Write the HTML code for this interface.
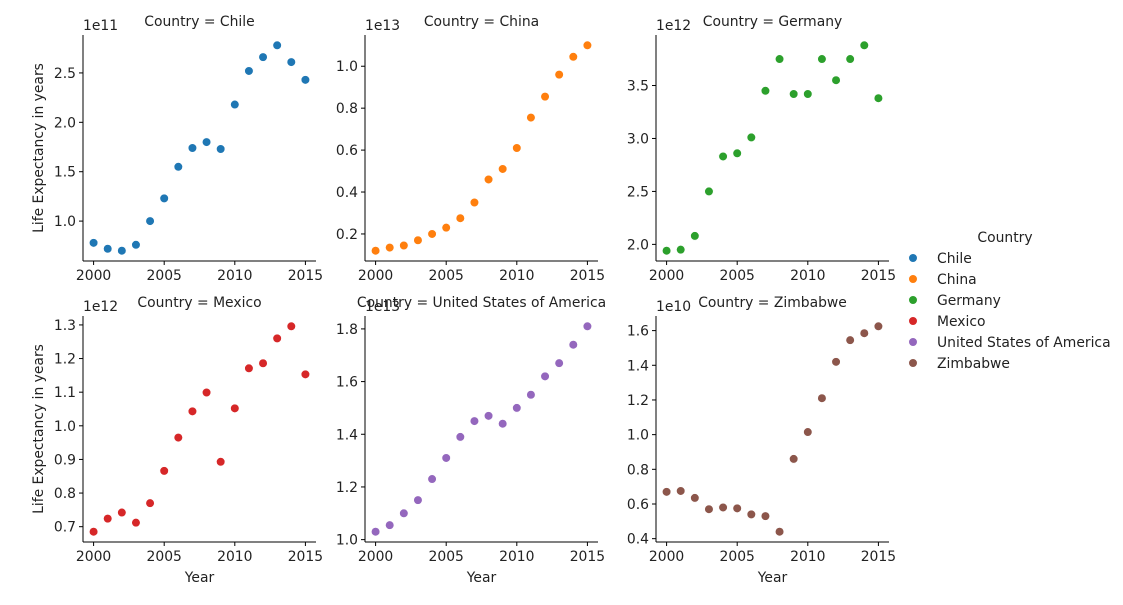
<!DOCTYPE html>
<html><head><meta charset="utf-8"><style>
html,body{margin:0;padding:0;background:#fff;}
svg{font-family:"DejaVu Sans","Liberation Sans",sans-serif;font-size:13.9px;}
</style></head><body>
<svg id="chart" width="1123" height="600" xmlns="http://www.w3.org/2000/svg"></svg>
<script>
const years = [2000,2001,2002,2003,2004,2005,2006,2007,2008,2009,2010,2011,2012,2013,2014,2015];
const countries = ["Chile","China","Germany","Mexico","United States of America","Zimbabwe"];
const colors = ["#1f77b4","#ff7f0e","#2ca02c","#d62728","#9467bd","#8c564b"];
const chileVals = [0.78,0.72,0.70,0.76,1.00,1.23,1.55,1.74,1.80,1.73,2.18,2.52,2.66,2.78,2.61,2.43];
const chinaVals = [0.12,0.135,0.145,0.17,0.20,0.23,0.275,0.35,0.46,0.51,0.61,0.755,0.855,0.96,1.045,1.10];
const germanyVals = [1.94,1.95,2.08,2.50,2.83,2.86,3.01,3.45,3.75,3.42,3.42,3.75,3.55,3.75,3.88,3.38];
const mexicoVals = [0.685,0.724,0.742,0.712,0.770,0.866,0.965,1.043,1.099,0.893,1.052,1.171,1.186,1.260,1.296,1.153];
const usaVals = [1.03,1.055,1.10,1.15,1.23,1.31,1.39,1.45,1.47,1.44,1.50,1.55,1.62,1.67,1.74,1.81];
const zimbabweVals = [0.67,0.675,0.635,0.57,0.58,0.575,0.54,0.53,0.44,0.86,1.015,1.21,1.42,1.545,1.585,1.625];
const offsets = ["1e11","1e13","1e12","1e12","1e13","1e10"];
const xTicks = [2000,2005,2010,2015];
const chileTicks = ["1.0","1.5","2.0","2.5"];
const chinaTicks = ["0.2","0.4","0.6","0.8","1.0"];
const germanyTicks = ["2.0","2.5","3.0","3.5"];
const mexicoTicks = ["0.7","0.8","0.9","1.0","1.1","1.2","1.3"];
const usaTicks = ["1.0","1.2","1.4","1.6","1.8"];
const zimbabweTicks = ["0.4","0.6","0.8","1.0","1.2","1.4","1.6"];

const allVals = [chileVals,chinaVals,germanyVals,mexicoVals,usaVals,zimbabweVals];
const allTicks = [chileTicks,chinaTicks,germanyTicks,mexicoTicks,usaTicks,zimbabweTicks];
const NS = "http://www.w3.org/2000/svg";
const svg = document.getElementById("chart");
function mk(tag, attrs, parent, text){
  const e = document.createElementNS(NS, tag);
  for (const k in attrs) e.setAttribute(k, attrs[k]);
  if (text !== undefined) e.textContent = text;
  (parent||svg).appendChild(e);
  return e;
}
const lefts = [83,365,656], tops = [35,316], W = 233, H = 226;
for (let i=0;i<6;i++){
  const col=i%3,row=Math.floor(i/3);
  const L=lefts[col],T=tops[row],B=T+H,R=L+W;
  const vals=allVals[i];
  const g=mk("g",{});
  
  
  const xmin=Math.min(...years),xmax=Math.max(...years);
  const xm=(xmax-xmin)*0.05;
  const x=v=>L+(v-(xmin-xm))/((xmax-xmin)+2*xm)*W;
  const ymin=Math.min(...vals),ymax=Math.max(...vals);
  const ym=(ymax-ymin)*0.05;
  const y=v=>B-(v-(ymin-ym))/((ymax-ymin)+2*ym)*H;
  const t=mk("text",{x:L+W/2,y:T-9,"text-anchor":"middle",fill:"#222"},g,"Country = "+countries[i]);
  
  
  const o=mk("text",{x:L,y:T-5,fill:"#222"},g,offsets[i]);
  
  
  const sl=mk("line",{x1:L,y1:T,x2:L,y2:B,stroke:"#000","stroke-width":1},g);
  
  
  const sb=mk("line",{x1:L,y1:B,x2:R,y2:B,stroke:"#000","stroke-width":1},g);
  
  
  xTicks.forEach(v=>{
    mk("line",{x1:x(v),y1:B,x2:x(v),y2:B+4,stroke:"#000"},g);
    const tl=mk("text",{x:x(v),y:B+19,"text-anchor":"middle",fill:"#222"},g,String(v));
    
    
  });
  allTicks[i].forEach(s=>{
    const v=parseFloat(s);
    mk("line",{x1:L-4,y1:y(v),x2:L,y2:y(v),stroke:"#000"},g);
    const tl=mk("text",{x:L-7,y:y(v)+5,"text-anchor":"end",fill:"#222"},g,s);
    
    
  });
  vals.forEach((v,j)=>{
    const c=mk("circle",{cx:x(years[j]),cy:y(v),r:4.3,fill:colors[i],stroke:"#fff","stroke-width":0.6},g);
    
    
  });
  if(row===1){
    const xl=mk("text",{x:L+W/2,y:582,"text-anchor":"middle",fill:"#222"},g,"Year");
    
    
  }
  if(col===0){
    const cy=T+H/2;
    const yl=mk("text",{x:43,y:cy,"text-anchor":"middle",fill:"#222",transform:"rotate(-90 43 "+cy+")"},g,"Life Expectancy in years");
    
    
  }
}
const lg=mk("g",{});


mk("text",{x:1005,y:242,"text-anchor":"middle",fill:"#222"},lg,"Country");
countries.forEach((c,i)=>{
  const yy=258+i*21;
  const e=mk("g",{},lg);
  
  
  mk("circle",{cx:913,cy:yy,r:4.3,fill:colors[i],stroke:"#fff","stroke-width":0.6},e);
  mk("text",{x:937,y:yy+5,fill:"#222"},e,c);
});
</script>
</body></html>
